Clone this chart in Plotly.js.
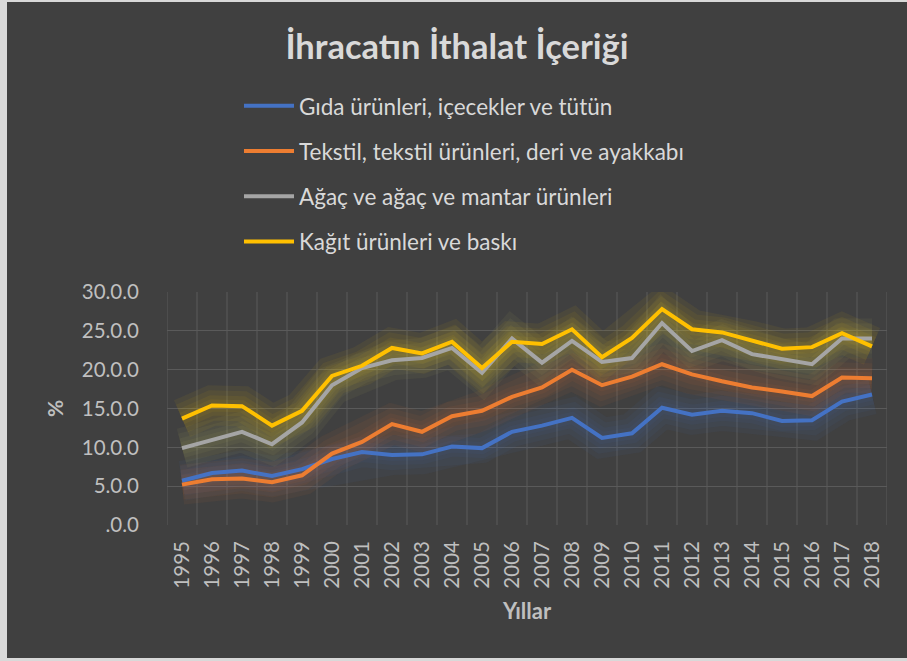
<!DOCTYPE html>
<html>
<head>
<meta charset="utf-8">
<script src="https://cdn.plot.ly/plotly-3.0.1.min.js"></script>
<style>
html,body{margin:0;padding:0;background:#d9d9d9;width:907px;height:661px;overflow:hidden;}
#chart{position:absolute;left:7px;top:2px;width:900px;height:656px;}
</style>
</head>
<body>
<div id="chart"></div>
<script>
const years = ["1995","1996","1997","1998","1999","2000","2001","2002","2003","2004","2005","2006","2007","2008","2009","2010","2011","2012","2013","2014","2015","2016","2017","2018"];
const gida = [5.7,6.7,7.0,6.3,7.2,8.5,9.4,9.0,9.1,10.1,9.9,12.0,12.8,13.8,11.2,11.8,15.1,14.2,14.7,14.4,13.4,13.5,15.9,16.8];
const tekstil = [5.2,5.9,6.0,5.5,6.4,9.2,10.7,13.0,12.0,14.0,14.7,16.5,17.7,20.0,18.0,19.1,20.7,19.4,18.5,17.7,17.2,16.6,19.0,18.9];
const agac = [9.9,11.0,12.0,10.4,13.2,18.0,20.2,21.2,21.5,22.8,19.6,24.0,20.9,23.7,21.0,21.5,26.0,22.4,23.8,22.0,21.4,20.7,24.0,24.0];
const kagit = [13.7,15.4,15.3,12.8,14.7,19.2,20.5,22.8,22.1,23.6,20.2,23.6,23.3,25.2,21.6,24.1,27.8,25.2,24.8,23.7,22.7,22.9,24.7,23.0];
const seriesNames = ["Gıda ürünleri, içecekler ve tütün","Tekstil, tekstil ürünleri, deri ve ayakkabı","Ağaç ve ağaç ve mantar ürünleri","Kağıt ürünleri ve baskı"];
const seriesColors = ["#4472C4","#ED7D31","#A5A5A5","#FFC000"];
const glowColors = ["rgba(68,114,196,0.06)","rgba(237,125,49,0.06)","rgba(200,200,110,0.06)","rgba(255,200,0,0.06)"];
const yTickVals = [0,5,10,15,20,25,30];
const yTickText = [".0.0","5.0.0","10.0.0","15.0.0","20.0.0","25.0.0","30.0.0"];

const allSeries = [gida, tekstil, agac, kagit];
const traces = [];
// soft glow layers under each line
allSeries.forEach((s, i) => {
  [40, 30, 20, 12].forEach(w => {
    traces.push({x: years, y: s, type: 'scatter', mode: 'lines', showlegend: false, hoverinfo: 'skip',
      line: {color: glowColors[i], width: w, shape: 'linear'}});
  });
});
allSeries.forEach((s, i) => {
  traces.push({x: years, y: s, type: 'scatter', mode: 'lines', name: seriesNames[i], legendgroup: 'g' + i,
    line: {color: seriesColors[i], width: 4}});
});

const layout = {
  width: 900, height: 656,
  paper_bgcolor: '#404040', plot_bgcolor: '#404040',
  margin: {l: 160, r: 20, t: 290, b: 133},
  font: {family: 'Lato, "Open Sans", sans-serif', color: '#bfbfbf'},
  title: {text: '<b>İhracatın İthalat İçeriği</b>', font: {size: 34.5, color: '#d9d9d9', family: 'Lato, sans-serif'},
    x: 0.5, xanchor: 'center', y: 0.932, yanchor: 'middle'},
  showlegend: true,
  legend: {orientation: 'v', x: 0.1, xanchor: 'left', yref: 'container', y: 0.874, yanchor: 'top',
    font: {size: 22.5, color: '#d9d9d9'}, tracegroupgap: 13, bgcolor: 'rgba(0,0,0,0)', itemwidth: 50},
  xaxis: {type: 'category', showgrid: false, tickangle: -90, tickfont: {size: 20.5, color: '#bfbfbf'},
    ticks: '', showline: false, zeroline: false, ticklabelstandoff: 11,
    title: {text: '<b>Yıllar</b>', font: {size: 22, color: '#bfbfbf'}, standoff: 15},
    range: [-0.5, 23.5]},
  yaxis: {range: [0, 30], tickvals: yTickVals, ticktext: yTickText, tickfont: {size: 20.5, color: '#bfbfbf'},
    showgrid: true, gridcolor: '#5a5a5a', gridwidth: 1, zeroline: false, showline: false,
    ticklabelstandoff: 27,
    title: {text: '<b>%</b>', font: {size: 21, color: '#bfbfbf'}, standoff: 12}},
  shapes: years.map((y, i) => ({type: 'line', xref: 'x', yref: 'paper', x0: i - 0.5, x1: i - 0.5, y0: 0, y1: 1,
    line: {color: '#5a5a5a', width: 1}, layer: 'below'})).concat([{type: 'line', xref: 'x', yref: 'paper', x0: 23.5, x1: 23.5, y0: 0, y1: 1,
    line: {color: '#5a5a5a', width: 1}, layer: 'below'}])
};

Plotly.newPlot('chart', traces, layout, {displayModeBar: false, staticPlot: true});
</script>
</body>
</html>
